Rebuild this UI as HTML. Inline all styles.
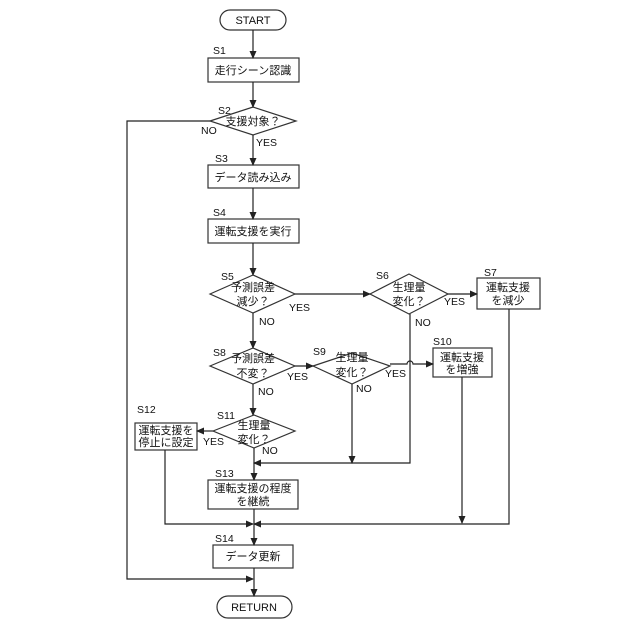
<!DOCTYPE html>
<html><head><meta charset="utf-8"><style>html,body{margin:0;padding:0;background:#fff}svg{display:block}</style></head><body>
<svg width="640" height="640" viewBox="0 0 640 640" xmlns="http://www.w3.org/2000/svg" font-family="Liberation Sans, Noto Sans CJK JP, sans-serif">
<defs><marker id="a" markerWidth="8" markerHeight="8" refX="7" refY="4" orient="auto" markerUnits="userSpaceOnUse"><path d="M0,0.5 L8,4 L0,7.5 z" fill="#222"/></marker></defs>
<g stroke="#333" stroke-width="1.2" fill="none">
<rect x="220" y="10" width="66" height="20" rx="10"/>
<rect x="208" y="58" width="91" height="24"/>
<polygon points="210,121 253,107 296,121 253,135"/>
<rect x="208" y="165" width="91" height="23"/>
<rect x="208" y="219" width="91" height="24"/>
<polygon points="210,294 253,275 295,294 253,313"/>
<polygon points="370,294 409,274 448,294 409,314"/>
<rect x="477" y="278" width="63" height="31"/>
<polygon points="210,366 253,348 295,366 253,384"/>
<polygon points="313,366 352,353 390,366 352,384"/>
<rect x="433" y="348" width="59" height="29"/>
<polygon points="213,431 254,415 295,431 254,448"/>
<rect x="135" y="423" width="62" height="27"/>
<rect x="208" y="480" width="90" height="29"/>
<rect x="213" y="545" width="80" height="23"/>
<rect x="217" y="596" width="75" height="22" rx="11"/>
</g>
<g stroke="#222" stroke-width="1.2" fill="none">
<line x1="253" y1="30" x2="253" y2="58" marker-end="url(#a)"/>
<line x1="253" y1="82" x2="253" y2="107" marker-end="url(#a)"/>
<line x1="253" y1="135" x2="253" y2="165" marker-end="url(#a)"/>
<line x1="253" y1="188" x2="253" y2="219" marker-end="url(#a)"/>
<line x1="253" y1="243" x2="253" y2="275" marker-end="url(#a)"/>
<line x1="295" y1="294" x2="370" y2="294" marker-end="url(#a)"/>
<line x1="448" y1="294" x2="477" y2="294" marker-end="url(#a)"/>
<line x1="253" y1="313" x2="253" y2="348" marker-end="url(#a)"/>
<line x1="295" y1="366" x2="313" y2="366" marker-end="url(#a)"/>
<path d="M390,364 L407,364 A3,3 0 0 1 413,364 L433,364" marker-end="url(#a)"/>
<line x1="253" y1="384" x2="253" y2="415" marker-end="url(#a)"/>
<line x1="213" y1="431" x2="197" y2="431" marker-end="url(#a)"/>
<line x1="254" y1="448" x2="254" y2="480" marker-end="url(#a)"/>
<line x1="352" y1="384" x2="352" y2="463" marker-end="url(#a)"/>
<polyline points="410,314 410,463 254,463" marker-end="url(#a)"/>
<polyline points="210,121 127,121 127,579 253,579" marker-end="url(#a)"/>
<line x1="462" y1="377" x2="462" y2="523" marker-end="url(#a)"/>
<polyline points="509,309 509,524 254,524" marker-end="url(#a)"/>
<polyline points="165,450 165,524 253,524" marker-end="url(#a)"/>
<line x1="254" y1="509" x2="254" y2="545" marker-end="url(#a)"/>
<line x1="254" y1="568" x2="254" y2="596" marker-end="url(#a)"/>
</g>
<g font-size="11" fill="#111" text-anchor="middle">
<text x="253" y="24">START</text>
<text x="253" y="74">走行シーン認識</text>
<text x="253" y="125">支援対象？</text>
<text x="253" y="181">データ読み込み</text>
<text x="253" y="235">運転支援を実行</text>
<text x="253" y="291">予測誤差</text><text x="253" y="305">減少？</text>
<text x="409" y="291">生理量</text><text x="409" y="305">変化？</text>
<text x="508" y="291">運転支援</text><text x="508" y="304">を減少</text>
<text x="253" y="362">予測誤差</text><text x="253" y="377">不変？</text>
<text x="352" y="361">生理量</text><text x="352" y="376">変化？</text>
<text x="462" y="361">運転支援</text><text x="462" y="373">を増強</text>
<text x="254" y="429">生理量</text><text x="254" y="443">変化？</text>
<text x="166" y="434">運転支援を</text><text x="166" y="446">停止に設定</text>
<text x="253" y="492">運転支援の程度</text><text x="253" y="505">を継続</text>
<text x="253" y="560">データ更新</text>
<text x="254" y="611">RETURN</text>
</g>
<g font-size="10.5" fill="#111">
<text x="213" y="54">S1</text><text x="218" y="114">S2</text><text x="215" y="162">S3</text><text x="213" y="216">S4</text>
<text x="221" y="280">S5</text><text x="376" y="279">S6</text><text x="484" y="276">S7</text><text x="213" y="356">S8</text>
<text x="313" y="355">S9</text><text x="433" y="345">S10</text><text x="217" y="419">S11</text><text x="137" y="413">S12</text>
<text x="215" y="477">S13</text><text x="215" y="542">S14</text>
<text x="201" y="134">NO</text><text x="256" y="146">YES</text>
<text x="289" y="311">YES</text><text x="259" y="325">NO</text>
<text x="444" y="305">YES</text><text x="415" y="326">NO</text>
<text x="287" y="380">YES</text><text x="258" y="395">NO</text>
<text x="385" y="377">YES</text><text x="356" y="392">NO</text>
<text x="203" y="445">YES</text><text x="262" y="454">NO</text>
</g>
</svg>
</body></html>
